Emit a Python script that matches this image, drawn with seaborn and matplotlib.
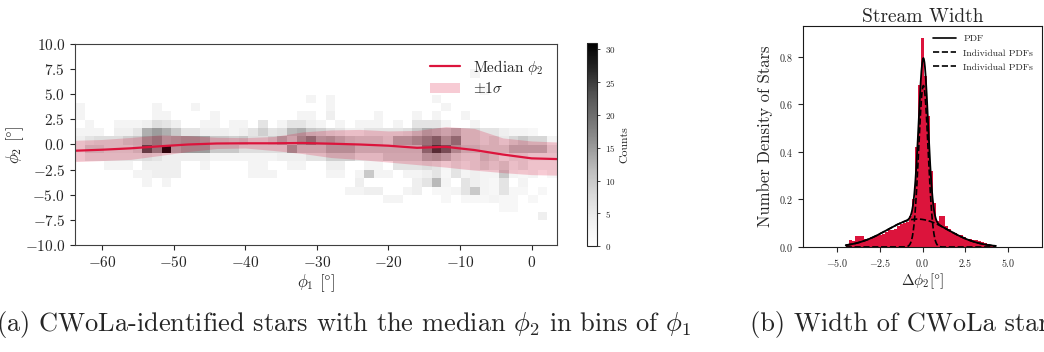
import numpy as np
import pandas as pd
import matplotlib
matplotlib.use("Agg")
import matplotlib.pyplot as plt
import seaborn as sns
from matplotlib.lines import Line2D
from matplotlib.patches import Patch

# ---------------- data: left panel (2D histogram of stars) ----------------
phi1_range = (-63.8, 3.55)          # histogram extent in phi1
phi1_nbins = 50
phi2_start = -9.172                 # lowest phi2 bin edge
phi2_width = 0.832                  # phi2 bin width
# counts per cell, base-36 digits; rows from top (phi2 ~ 7) to bottom (phi2 ~ -9)
count_rows = [
    "0000000000" "0000000000" "0000000000" "0000000000" "0300000000",  # 8
    "0000000000" "0000000000" "0000000000" "0000000000" "0000000000",  # 7
    "0000000000" "0000000000" "0000000000" "0000000000" "0020000000",  # 6
    "0000000000" "0000000000" "0000303000" "0000000300" "0000000000",  # 5
    "3000000030" "0030000000" "0000003000" "0000000030" "0000000000",  # 4
    "3000000033" "0000300000" "0003304000" "0300030300" "3000000000",  # 3
    "0300333476" "4003303306" "0366430303" "3303066630" "0300000000",  # 2
    "3330446dfd" "a664443469" "67cda97644" "66667adcac" "8866433200",  # 1
    "467779afhd" "effeaa9a77" "9dafideca9" "997ddfhkei" "886858a883",  # 0
    "4997779ohv" "dfffaaa777" "77faaaddda" "aaaaaajqme" "aa888cccc6",  # -1
    "3666666764" "4444333333" "3444669996" "669999dec8" "66a8466444",  # -2
    "0003330444" "4003000033" "0033004400" "3306667636" "4686846333",  # -3
    "0000003344" "4000000033" "3000003303" "a330334626" "3433a32302",  # -4
    "0000000303" "0000000000" "0000000004" "0000046c30" "6432603000",  # -5
    "0000000000" "0000000000" "0000000033" "4400340223" "6a32622020",  # -6
    "0000000000" "0000000000" "0000000000" "0033000020" "2223220200",  # -7
    "0000000000" "0000000000" "0000000000" "0000000000" "0000220000",  # -8
    "0000000000" "0000000000" "0000000000" "0000000000" "0000000040",  # -9
    "0000000000" "0000000000" "0000000000" "0000000000" "0000000000",  # -10
    "0000000000" "0000000000" "0000000000" "0000000000" "0000000000",  # -11
]
count_ticks = [0, 5, 10, 15, 20, 25, 30]
count_max = 31

# running median of phi2 and +-1 sigma band
med_phi1 = [-63.8, -60, -56, -52, -48, -44, -40, -36, -32, -28, -24, -20, -16, -12, -8, -4, 0, 3.55]
med_phi2 = [-0.62, -0.52, -0.38, -0.18, 0.0, 0.1, 0.12, 0.12, 0.15, 0.08, 0.0, -0.12, -0.33, -0.23, -0.55, -1.0, -1.38, -1.45]
band_hi = [0.42, 0.5, 0.7, 0.95, 0.88, 0.72, 0.68, 0.8, 1.25, 1.45, 1.5, 1.35, 1.4, 1.78, 1.6, 0.65, 0.35, 0.25]
band_lo = [-1.7, -1.6, -1.48, -1.1, -0.7, -0.4, -0.35, -0.6, -0.9, -1.3, -1.5, -1.75, -2.0, -2.25, -2.55, -2.8, -3.0, -3.05]

# ---------------- data: right panel (stream width) ----------------
dphi2_range = (-4.5, 4.3)
density = [0.008, 0.030, 0.025, 0.045, 0.045, 0.045, 0.035, 0.035, 0.040, 0.045,
           0.050, 0.050, 0.055, 0.065, 0.070, 0.072, 0.075, 0.090, 0.095, 0.100,
           0.105, 0.130, 0.200, 0.420, 0.680, 0.880, 0.720, 0.550, 0.320, 0.185,
           0.110, 0.130, 0.130, 0.087, 0.075, 0.065, 0.060, 0.050, 0.050, 0.040,
           0.035, 0.033, 0.030, 0.028, 0.025, 0.020, 0.015, 0.012, 0.008, 0.006]
# two-component gaussian mixture fitted to the width distribution
comp_mu = [-0.29, 0.05]
comp_sigma = [1.8, 0.276]
comp_weight = [0.53, 0.47]

# ---------------- style ----------------
sns.set_style("ticks")
plt.rcParams["font.family"] = ["cmr10", "DejaVu Serif"]
plt.rcParams["mathtext.fontset"] = "cm"
plt.rcParams["axes.formatter.use_mathtext"] = True
plt.rcParams["axes.unicode_minus"] = True
RED = "crimson"

fig = plt.figure(figsize=(10.44, 3.52), dpi=100)
ax1 = fig.add_axes([0.0718, 0.304, 0.4617, 0.571])
cax = fig.add_axes([0.5623, 0.301, 0.0096, 0.577])
ax2 = fig.add_axes([0.7692, 0.2983, 0.2289, 0.628])

# ---- left: 2D histogram
xedges = np.linspace(phi1_range[0], phi1_range[1], phi1_nbins + 1)
nrows = len(count_rows)
yedges = phi2_start + phi2_width * np.arange(nrows + 1)
counts = np.array([[int(ch, 36) for ch in row] for row in count_rows[::-1]], dtype=float)
xc = 0.5 * (xedges[:-1] + xedges[1:])
yc = 0.5 * (yedges[:-1] + yedges[1:])
XX, YY = np.meshgrid(xc, yc)
df2d = pd.DataFrame({"phi1": XX.ravel(), "phi2": YY.ravel(), "n": counts.ravel()})
df2d = df2d[df2d["n"] > 0]
sns.histplot(data=df2d, x="phi1", y="phi2", weights="n", bins=[xedges, yedges],
             cmap="Greys", vmin=0, vmax=count_max, cbar=True, cbar_ax=cax,
             cbar_kws={"ticks": count_ticks}, ax=ax1)
ax1.fill_between(med_phi1, band_lo, band_hi, color=RED, alpha=0.22, lw=0)
sns.lineplot(x=med_phi1, y=med_phi2, color=RED, lw=1.6, ax=ax1)
ax1.set_xlim(phi1_range)
ax1.set_ylim(-10, 10)
ax1.set_xticks([-60, -50, -40, -30, -20, -10, 0])
ax1.set_yticks(np.arange(-10, 10.1, 2.5))
ax1.tick_params(labelsize=11)
ax1.set_xlabel(r"$\phi_1$ [$\degree$]", fontsize=12, labelpad=2)
ax1.set_ylabel(r"$\phi_2$ [$\degree$]", fontsize=12)
ax1.yaxis.set_label_coords(-0.102, 0.5)
h1 = [Line2D([], [], color=RED, lw=1.6), Patch(facecolor=RED, alpha=0.22, lw=0)]
ax1.legend(h1, [r"Median $\phi_2$", r"$\pm1\sigma$"], loc="upper right",
           frameon=False, fontsize=11, labelspacing=0.3)
for s in ax1.spines.values():
    s.set_color("0.25")

cax.tick_params(labelsize=6.5, length=2.5, width=0.6)
cax.set_ylabel("Counts", fontsize=8.5, labelpad=3)
cax.set_ylim(0, count_max)

# ---- right: stream width histogram
w_edges = list(np.linspace(dphi2_range[0], dphi2_range[1], len(density) + 1))
w_centers = [0.5 * (a + b) for a, b in zip(w_edges[:-1], w_edges[1:])]
dfw = pd.DataFrame({"d": w_centers, "w": density})
sns.histplot(data=dfw, x="d", weights="w", bins=w_edges, color=RED, alpha=1,
             linewidth=0, ax=ax2)
xg = np.linspace(dphi2_range[0], dphi2_range[1], 600)
comps = [w / (s * np.sqrt(2 * np.pi)) * np.exp(-0.5 * ((xg - m) / s) ** 2)
         for m, s, w in zip(comp_mu, comp_sigma, comp_weight)]
sns.lineplot(x=xg, y=comps[0] + comps[1], color="k", lw=1.3, ax=ax2)
for c in comps:
    sns.lineplot(x=xg, y=c, color="k", lw=1.2, ls="--", ax=ax2)
ax2.set_xlim(-7, 7)
ax2.set_ylim(0, 0.93)
ax2.set_xticks([-5, -2.5, 0, 2.5, 5])
ax2.set_yticks([0, 0.2, 0.4, 0.6, 0.8])
ax2.tick_params(labelsize=7.2)
ax2.set_xlabel(r"$\Delta\phi_2[\degree]$", fontsize=11, labelpad=2)
ax2.set_ylabel("Number Density of Stars", fontsize=12)
ax2.set_title("Stream Width", fontsize=14, pad=3)
h2 = [Line2D([], [], color="k", lw=1.2), Line2D([], [], color="k", lw=1.2, ls="--"),
      Line2D([], [], color="k", lw=1.2, ls="--")]
ax2.legend(h2, ["PDF", "Individual PDFs", "Individual PDFs"], loc="upper right",
           frameon=False, fontsize=7, labelspacing=0.55, handlelength=2.3)
for s in ax2.spines.values():
    s.set_color("0.1")

# ---- captions
fig.text(-0.004, 0.077, r"(a) CWoLa-identified stars with the median $\phi_2$ in bins of $\phi_1$",
         fontsize=19, va="center", ha="left")
fig.text(0.718, 0.077, "(b) Width of CWoLa stars", fontsize=19, va="center", ha="left")

fig.savefig("out.png", dpi=100)
